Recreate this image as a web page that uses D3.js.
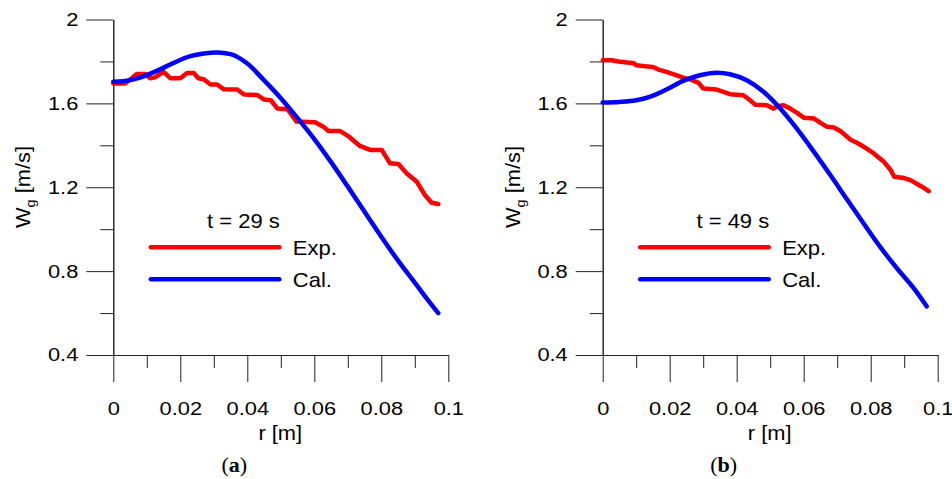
<!DOCTYPE html>
<html>
<head>
<meta charset="utf-8">
<script src="https://cdn.jsdelivr.net/npm/d3@7"></script>
<style>
  body { margin: 0; background: #fff; }
  text { font-family: "Liberation Sans", Arial, sans-serif; }
</style>
</head>
<body>
<div id="my_dataviz"></div>
<script>
// data
const rTicks = [0, 0.02, 0.04, 0.06, 0.08, 0.1];
const rMinor = [0.01, 0.03, 0.05, 0.07, 0.09];
const wTicks = [0.4, 0.8, 1.2, 1.6, 2];
const wMinor = [0.6, 1.0, 1.4, 1.8];

// (a) t = 29 s
const expR_a = [0, 0.0035, 0.0055, 0.007, 0.0095, 0.011, 0.0124, 0.015, 0.017, 0.020, 0.022, 0.024, 0.0254, 0.027, 0.029, 0.031, 0.033, 0.037, 0.039, 0.043, 0.045, 0.047, 0.049, 0.052, 0.0547, 0.0602, 0.0627, 0.0642, 0.0677, 0.0701, 0.0736, 0.0766, 0.0801, 0.0826, 0.0851, 0.0876, 0.0906, 0.093, 0.095, 0.097];
const expW_a = [1.695, 1.695, 1.72, 1.74, 1.74, 1.72, 1.724, 1.75, 1.72, 1.72, 1.745, 1.745, 1.72, 1.715, 1.69, 1.69, 1.667, 1.666, 1.642, 1.64, 1.618, 1.615, 1.575, 1.572, 1.513, 1.510, 1.489, 1.468, 1.468, 1.444, 1.397, 1.378, 1.378, 1.314, 1.311, 1.266, 1.226, 1.163, 1.126, 1.12];
const calR_a = [0, 0.003, 0.008, 0.013, 0.018, 0.023, 0.027, 0.031, 0.035, 0.040, 0.045, 0.050, 0.055, 0.060, 0.065, 0.070, 0.075, 0.080, 0.085, 0.090, 0.0945, 0.097];
const calW_a = [1.703, 1.706, 1.723, 1.755, 1.793, 1.825, 1.838, 1.843, 1.835, 1.79, 1.71, 1.625, 1.53, 1.43, 1.32, 1.203, 1.083, 0.964, 0.85, 0.745, 0.65, 0.600];

// (b) t = 49 s
const expR_b = [0, 0.0027, 0.0047, 0.0072, 0.009, 0.010, 0.0126, 0.015, 0.0166, 0.019, 0.021, 0.024, 0.026, 0.0286, 0.030, 0.034, 0.036, 0.038, 0.042, 0.0436, 0.0455, 0.049, 0.051, 0.052, 0.054, 0.056, 0.058, 0.060, 0.063, 0.065, 0.067, 0.069, 0.071, 0.074, 0.076, 0.078, 0.081, 0.084, 0.086, 0.087, 0.090, 0.092, 0.095, 0.0973];
const expW_b = [1.806, 1.806, 1.80, 1.795, 1.793, 1.782, 1.777, 1.774, 1.761, 1.75, 1.739, 1.723, 1.715, 1.698, 1.671, 1.666, 1.655, 1.644, 1.639, 1.62, 1.594, 1.591, 1.575, 1.586, 1.591, 1.575, 1.555, 1.532, 1.528, 1.507, 1.488, 1.485, 1.467, 1.427, 1.411, 1.392, 1.36, 1.32, 1.281, 1.25, 1.244, 1.233, 1.205, 1.181];
const calR_b = [0, 0.005, 0.010, 0.014, 0.019, 0.024, 0.029, 0.034, 0.038, 0.043, 0.048, 0.053, 0.058, 0.063, 0.068, 0.073, 0.078, 0.083, 0.088, 0.093, 0.0967];
const calW_b = [1.604, 1.607, 1.615, 1.631, 1.666, 1.707, 1.734, 1.746, 1.739, 1.71, 1.655, 1.575, 1.478, 1.37, 1.257, 1.14, 1.025, 0.912, 0.81, 0.715, 0.632];

const svg = d3.select("#my_dataviz")
  .append("svg")
    .attr("width", 952)
    .attr("height", 479);

// shared scales (panel coordinates)
const x = d3.scaleLinear().domain([0, 0.1]).range([0, 335]);
const y = d3.scaleLinear().domain([0.4, 2]).range([355, 19.5]);

function zip(rs, ws) { return rs.map((r, i) => ({r: r, w: ws[i]})); }

// the original font is a bit wider than Arial: stretch text horizontally
function widen(sel, k) {
  sel.each(function() {
    const t = d3.select(this);
    const x0 = +t.attr("x") || 0;
    t.attr("x", x0 / k).attr("transform", `scale(${k},1)`);
  });
}

function drawPanel(left, expR, expW, calR, calW, title, tag) {
  const g = svg.append("g").attr("transform", `translate(${left},0)`);

  // Y axis: major + minor ticks
  g.append("g")
    .call(d3.axisLeft(y).tickValues(wTicks).tickSize(27).tickSizeOuter(0)
      .tickPadding(8).tickFormat(d3.format("~g")))
    .call(a => a.selectAll("text").style("font-size", "18.5px").attr("fill", "#000")
      .style("font-family", "'Liberation Sans', Arial, sans-serif").call(widen, 1.18));
  g.append("g")
    .call(d3.axisLeft(y).tickValues(wMinor).tickSize(13).tickSizeOuter(0).tickFormat(""));

  // X axis at bottom
  g.append("g")
    .attr("transform", `translate(0,${y(0.4)})`)
    .call(d3.axisBottom(x).tickValues(rTicks).tickSize(27).tickSizeOuter(0)
      .tickPadding(20).tickFormat(d3.format("~g")))
    .call(a => a.selectAll("text").style("font-size", "18.5px").attr("fill", "#000")
      .style("font-family", "'Liberation Sans', Arial, sans-serif").call(widen, 1.18));
  g.append("g")
    .attr("transform", `translate(0,${y(0.4)})`)
    .call(d3.axisBottom(x).tickValues(rMinor).tickSize(13).tickSizeOuter(0).tickFormat(""));

  g.selectAll(".domain, .tick line").attr("stroke", "#222");

  // lines
  const lineExp = d3.line().x(d => x(d.r)).y(d => y(d.w));
  const lineCal = d3.line().x(d => x(d.r)).y(d => y(d.w)).curve(d3.curveMonotoneX);

  g.append("path")
    .datum(zip(expR, expW))
    .attr("d", lineExp)
    .attr("fill", "none")
    .attr("stroke", "#ff0000")
    .attr("stroke-width", 4.5)
    .attr("stroke-linejoin", "round")
    .attr("stroke-linecap", "round");

  g.append("path")
    .datum(zip(calR, calW))
    .attr("d", lineCal)
    .attr("fill", "none")
    .attr("stroke", "#0000ff")
    .attr("stroke-width", 4.5)
    .attr("stroke-linejoin", "round")
    .attr("stroke-linecap", "round");

  // legend
  const leg = g.append("g").style("font-size", "20px");
  leg.append("text").attr("x", 166.5).attr("y", 228.5).attr("text-anchor", "end").text(title);
  leg.append("line").attr("x1", 37.5).attr("x2", 166).attr("y1", 247.3).attr("y2", 247.3)
    .attr("stroke", "#ff0000").attr("stroke-width", 4.5).attr("stroke-linecap", "round");
  leg.append("text").attr("x", 179.5).attr("y", 255).text("Exp.");
  leg.append("line").attr("x1", 37.5).attr("x2", 166).attr("y1", 279.3).attr("y2", 279.3)
    .attr("stroke", "#0000ff").attr("stroke-width", 4.5).attr("stroke-linecap", "round");
  leg.append("text").attr("x", 179.5).attr("y", 287).text("Cal.");
  leg.selectAll("text").call(widen, 1.1);

  // axis titles
  g.append("text").attr("x", 167).attr("y", 440).attr("text-anchor", "middle")
    .style("font-size", "19.5px").text("r [m]").call(widen, 1.12);
  const yl = g.append("text")
    .attr("transform", `translate(-83,187) rotate(-90) scale(1.12,1)`)
    .attr("text-anchor", "middle")
    .style("font-size", "19.5px");
  yl.append("tspan").text("W");
  yl.append("tspan").attr("dy", 5).style("font-size", "13px").text("g");
  yl.append("tspan").attr("dy", -5).text(" [m/s]");

  // panel tag
  const tg = g.append("text").attr("x", 121).attr("y", 472).attr("text-anchor", "middle")
    .style("font-family", "'Liberation Serif', 'Times New Roman', serif").style("font-size", "22px");
  tg.append("tspan").text("(");
  tg.append("tspan").style("font-weight", "bold").text(tag);
  tg.append("tspan").text(")");
}

drawPanel(113.3, expR_a, expW_a, calR_a, calW_a, "t = 29 s", "a");
drawPanel(602.7, expR_b, expW_b, calR_b, calW_b, "t = 49 s", "b");
</script>
</body>
</html>
